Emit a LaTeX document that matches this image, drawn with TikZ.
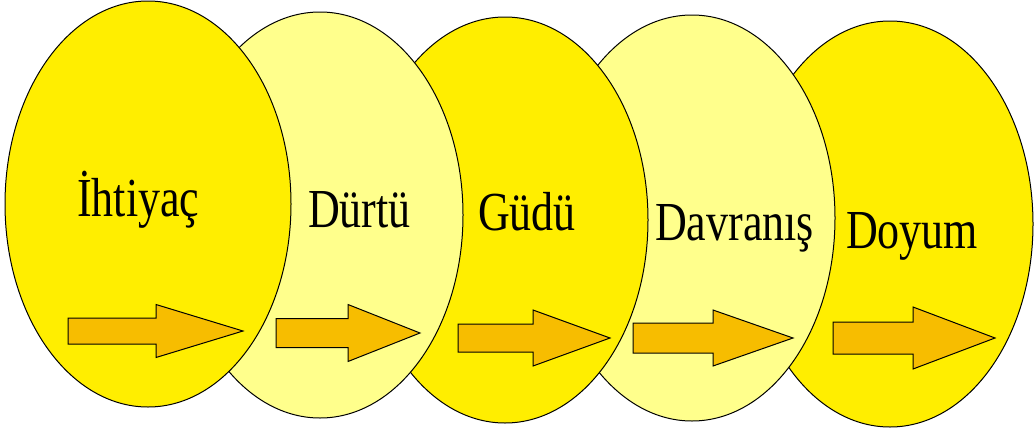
\documentclass[tikz,border=0pt]{standalone}
\usepackage{fontspec}
\setmainfont{Liberation Serif}
\usetikzlibrary{shapes.geometric}
\definecolor{brightY}{HTML}{FFEE00}
\definecolor{paleY}{HTML}{FFFF8C}
\definecolor{arrowY}{HTML}{F7BD00}
\tikzset{
  oval/.style={ellipse, draw=black, line width=1pt, minimum width=286pt, minimum height=406pt, inner sep=0pt},
  bright/.style={oval, fill=brightY},
  pale/.style={oval, fill=paleY},
  lbl/.style={anchor=base west, inner sep=0pt, font=\fontsize{55}{62}\selectfont},
  fatarrow/.style={draw=black, line width=1pt, fill=arrowY, line join=miter}
}
\newcommand{\yarrow}[6]{%
  \draw[fatarrow] (#1,#4-#5) -- (#2,#4-#5) -- (#2,#4-#6) -- (#3,#4) -- (#2,#4+#6) -- (#2,#4+#5) -- (#1,#4+#5) -- cycle;}
\newcommand{\sq}[1]{\scalebox{0.8}[1]{#1}}
\begin{document}
\begin{tikzpicture}[x=1pt,y=-1pt]
\useasboundingbox (0,0) rectangle (1035,434);
% ellipses, rightmost drawn first so each lies over the next
\node[bright] (e5) at (890,224) {};
\node[pale]   (e4) at (692,218) {};
\node[bright] (e3) at (505,220) {};
\node[pale]   (e2) at (320,215) {};
\node[bright] (e1) at (148,204) {};
% labels
\node[lbl] (t1) at (77,216)  {\sq{İhtiyaç}};
\node[lbl] (t2) at (308,227) {\sq{Dürtü}};
\node[lbl] (t3) at (478,230) {\sq{Güdü}};
\node[lbl] (t4) at (655,240) {\sq{Davranış}};
\node[lbl] (t5) at (846,248) {\sq{Doyum}};
% block arrows
\yarrow{68}{156}{243}{331}{13}{26.5}
\yarrow{276}{348}{420}{333}{14.5}{28.5}
\yarrow{458}{533}{610}{338}{14}{28}
\yarrow{633}{713}{793}{338}{15}{28}
\yarrow{833}{913}{995}{338}{16}{31}
\end{tikzpicture}
\end{document}
